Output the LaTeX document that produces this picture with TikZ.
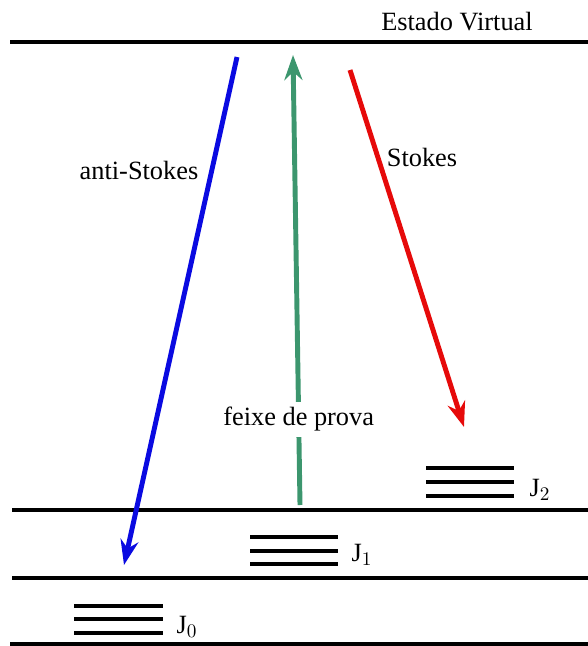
\documentclass[tikz,border=0pt]{standalone}
\usepackage{fontspec}
\setmainfont{Liberation Serif}
\usetikzlibrary{arrows.meta,positioning}
\definecolor{antiblue}{RGB}{10,10,225}
\definecolor{probe}{RGB}{60,150,110}
\definecolor{stokesred}{RGB}{230,10,10}

\begin{document}
\begin{tikzpicture}[x=0.02cm,y=-0.02cm,font=\fontsize{15}{17}\selectfont,
  level/.style={line width=2.2pt,black},
  sublevel/.style={line width=2.2pt,black},
  beam/.style={-{Stealth[length=5mm,width=3.6mm]},line width=2.8pt},
  lbl/.style={inner sep=1pt}]
\useasboundingbox (0,0) rectangle (588,646);
% energy levels
\draw[level] (10,42) -- (588,42);
\draw[level] (12,510) -- (588,510);
\draw[level] (12,578) -- (588,578);
\draw[level] (10,644) -- (588,644);
\node[lbl,anchor=base] (virt) at (457,30) {Estado Virtual};
% rotational sublevels
\foreach \y in {606,619,633} \draw[sublevel] (74,\y) -- (163,\y);
\foreach \y in {537,551,564} \draw[sublevel] (250,\y) -- (338,\y);
\foreach \y in {468,482,496} \draw[sublevel] (426,\y) -- (514,\y);
\node[lbl] (j0) at (187,627) {J$_0$};
\node[lbl] (j1) at (362,555) {J$_1$};
\node[lbl] (j2) at (540,490) {J$_2$};
% transitions
\coordinate (as0) at (237,57);
\coordinate (as1) at (124,565);
\coordinate (pr0) at (300,505);
\coordinate (pr1) at (293,55);
\coordinate (st0) at (350,70);
\coordinate (st1) at (464,427);
\draw[beam,draw=antiblue] (as0) -- (as1);
\draw[beam,draw=probe] (pr0) -- node[pos=0.19,fill=white,lbl,inner sep=3pt] (prlbl) {feixe de prova} (pr1);
\draw[beam,draw=stokesred] (st0) -- (st1);
\node[lbl] (antis) at (139,170) {anti-Stokes};
\node[lbl] (stokes) at (422,157) {Stokes};
\end{tikzpicture}
\end{document}
